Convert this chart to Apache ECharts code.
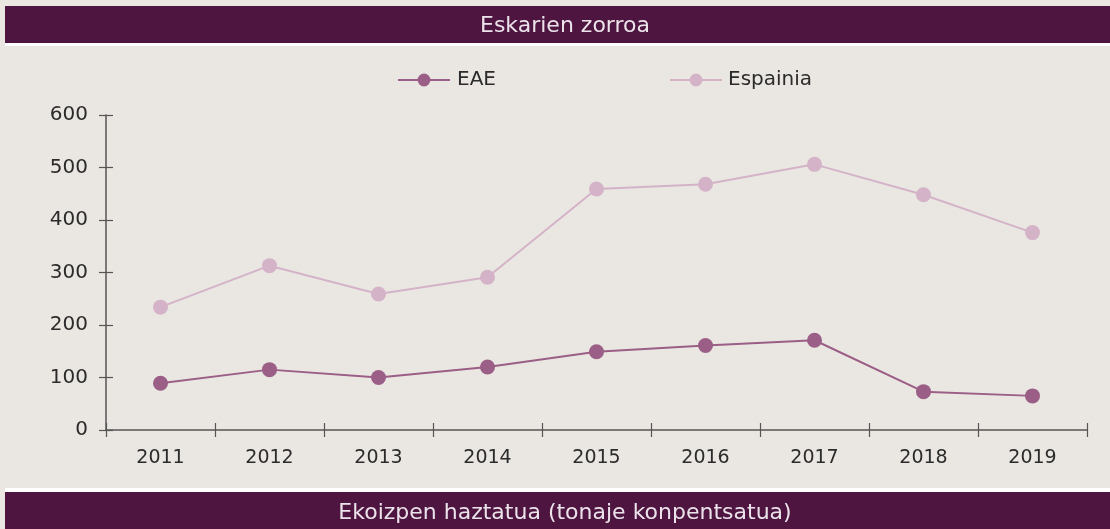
<!DOCTYPE html>
<html><head><meta charset="utf-8">
<script src="https://cdn.jsdelivr.net/npm/echarts@6/dist/echarts.min.js"></script>
<style>html,body{margin:0;padding:0;background:#eae7e2;}#c{width:1110px;height:529px;}</style>
</head><body><div id="c"></div>
<script>
const categories = ['2011','2012','2013','2014','2015','2016','2017','2018','2019'];
const eae = [89, 115, 100, 120, 149, 161, 171, 73, 65];
const espainia = [234, 313, 259, 291, 459, 468, 506, 448, 376];
const seriesNames = ['EAE', 'Espainia'];
const topTitle = 'Eskarien zorroa';
const bottomTitle = 'Ekoizpen haztatua (tonaje konpentsatua)';

const FONT = '"DejaVu Sans", sans-serif';
const dark = '#4d1540';
const c1 = '#9b5e86', c2 = '#d4b3c8';
const chart = echarts.init(document.getElementById('c'));
const axisCol = '#555555';
const txt = '#2b2b2b';
const g = {left:106, right:23, top:115, bottom:99};
chart.setOption({
  backgroundColor:'#eae7e2',
  animation:false,
  grid: [Object.assign({}, g), Object.assign({}, g)],
  legend:[
    {data:[seriesNames[0]], left:397, top:70, padding:0, itemWidth:52, itemHeight:16, itemGap:0,
     textStyle:{fontFamily:FONT, fontSize:20, color:txt, lineHeight:18, padding:[0,0,0,2]}},
    {data:[seriesNames[1]], left:669, top:70, padding:0, itemWidth:52, itemHeight:16, itemGap:0,
     textStyle:{fontFamily:FONT, fontSize:20, color:txt, lineHeight:18, padding:[0,0,0,1]}}
  ],
  xAxis:[
    {type:'category', gridIndex:0, data:categories, boundaryGap:true,
     axisLine:{lineStyle:{color:axisCol, width:1.5}},
     axisTick:{show:true, inside:false, length:7, lineStyle:{color:axisCol, width:1.2}},
     axisLabel:{fontFamily:FONT, fontSize:19, color:txt, margin:19}},
    {type:'category', gridIndex:1, data:categories, boundaryGap:true, position:'bottom',
     axisLine:{show:false},
     axisTick:{show:true, inside:true, length:7, lineStyle:{color:axisCol, width:1.2}},
     axisLabel:{show:false}}
  ],
  yAxis:[
    {type:'value', gridIndex:0, min:0, max:600, interval:100,
     axisLine:{show:true, lineStyle:{color:axisCol, width:1.5}},
     axisTick:{show:true, inside:false, length:7, lineStyle:{color:axisCol, width:1.2}},
     splitLine:{show:false},
     axisLabel:{fontFamily:FONT, fontSize:20, color:txt, margin:18, padding:[3,0,0,0]}},
    {type:'value', gridIndex:1, min:0, max:600, interval:100, position:'left',
     axisLine:{show:false},
     axisTick:{show:true, inside:true, length:7, lineStyle:{color:axisCol, width:1.2}},
     splitLine:{show:false}, axisLabel:{show:false}}
  ],
  series:[
    {name:seriesNames[0], type:'line', xAxisIndex:0, yAxisIndex:0, data:eae, color:c1, symbol:'circle', symbolSize:15,
     lineStyle:{width:2, color:c1}, itemStyle:{color:c1}},
    {name:seriesNames[1], type:'line', xAxisIndex:0, yAxisIndex:0, data:espainia, color:c2, symbol:'circle', symbolSize:15,
     lineStyle:{width:2, color:c2}, itemStyle:{color:c2}}
  ],
  graphic:[
    {type:'rect', left:5, top:6, shape:{width:1105, height:37}, style:{fill:dark}},
    {type:'rect', left:5, top:43, shape:{width:1105, height:3}, style:{fill:'#ffffff'}},
    {type:'text', x:565, y:26, style:{text:topTitle, fill:'#ece3ea', font:'22px '+FONT, textAlign:'center', textVerticalAlign:'middle'}},
    {type:'rect', left:5, top:488, shape:{width:1105, height:4}, style:{fill:'#ffffff'}},
    {type:'rect', left:5, top:492, shape:{width:1105, height:37}, style:{fill:dark}},
    {type:'text', x:565, y:513, style:{text:bottomTitle, fill:'#ece3ea', font:'22px '+FONT, textAlign:'center', textVerticalAlign:'middle'}}
  ]
});
</script></body></html>
